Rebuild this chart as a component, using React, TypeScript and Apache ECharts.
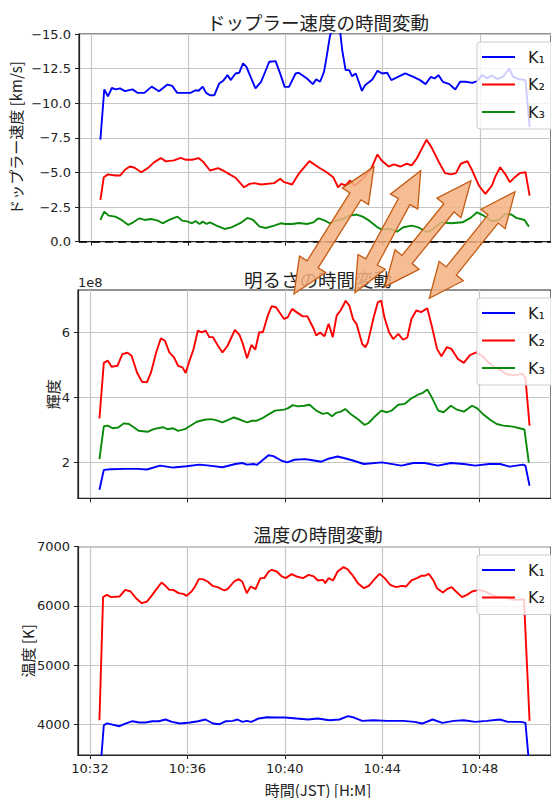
import React, { useEffect, useRef } from "react";
import * as echarts from "echarts";

type Pt = [number, number];

// x = minutes after 10:00 (JST)
// ---------- ドップラー速度 [km/s] ----------
const dopplerK1: Pt[] = [
  [32.39, -7.37], [32.55, -11.0], [32.7, -10.5], [32.86, -11.1], [33.02, -11.0], [33.2, -11.07], [33.4, -10.87],
  [33.71, -11.0], [33.91, -10.75], [34.2, -10.75], [34.5, -11.2], [34.8, -10.87], [35.15, -11.35], [35.35, -11.25],
  [35.55, -10.75], [36.1, -10.75], [36.3, -10.94], [36.43, -10.9], [36.6, -11.2], [36.74, -10.75], [36.9, -10.58],
  [37.08, -10.58], [37.28, -11.43], [37.44, -11.62], [37.62, -12.03], [37.75, -11.67], [37.95, -12.15], [38.1, -12.2],
  [38.26, -12.88], [38.4, -12.63], [38.77, -11.07], [39.0, -11.55], [39.2, -12.4], [39.34, -13.0], [39.6, -13.04],
  [39.81, -12.03], [39.97, -11.18], [40.15, -11.18], [40.42, -12.15], [40.55, -12.2], [40.89, -11.79], [41.13, -11.38],
  [41.27, -11.72], [41.43, -11.55], [41.59, -12.27], [41.7, -13.36], [41.83, -14.8], [41.95, -15.6], [42.1, -15.8],
  [42.24, -15.4], [42.34, -13.84], [42.48, -12.39], [42.63, -12.39], [42.74, -11.96], [42.9, -12.15], [43.02, -11.55],
  [43.15, -10.89], [43.28, -11.3], [43.58, -11.72], [43.79, -12.34], [43.99, -12.15], [44.19, -12.2], [44.36, -11.67],
  [44.93, -12.15], [45.27, -11.9], [45.54, -11.67], [45.77, -11.38], [45.98, -11.9], [46.14, -11.79], [46.3, -12.03],
  [46.48, -11.55], [46.75, -11.38], [46.99, -10.99], [47.19, -11.55], [47.42, -11.55], [47.69, -11.47], [47.9, -11.6],
  [48.09, -12.03], [48.3, -11.8], [48.5, -12.0], [48.7, -11.75], [48.95, -11.9], [49.21, -12.51], [49.37, -11.9],
  [49.6, -11.75], [49.88, -11.67], [50.05, -8.28],
];
const dopplerK2: Pt[] = [
  [32.39, -3.02], [32.53, -4.66], [32.7, -4.86], [33.0, -4.78], [33.2, -4.78], [33.4, -5.19], [33.6, -5.43],
  [33.8, -5.34], [34.07, -5.02], [34.34, -5.31], [34.61, -5.75], [34.88, -6.04], [35.08, -5.8], [35.42, -5.87],
  [35.69, -6.06], [35.89, -5.92], [36.16, -5.92], [36.43, -6.04], [36.63, -5.75], [36.9, -5.14], [37.24, -5.31],
  [37.44, -5.14], [37.71, -4.86], [37.95, -4.62], [38.3, -3.93], [38.53, -4.18], [38.73, -4.23], [39.0, -4.13],
  [39.54, -4.23], [39.79, -4.54], [39.95, -4.3], [40.28, -4.13], [40.55, -4.9], [40.99, -5.82], [41.36, -5.38],
  [41.7, -5.02], [41.97, -4.66], [42.17, -3.93], [42.3, -4.18], [42.48, -4.06], [42.67, -4.42], [42.84, -4.06],
  [43.04, -4.3], [43.25, -4.66], [43.56, -5.38], [43.79, -6.3], [43.96, -5.87], [44.25, -5.43], [44.46, -5.58],
  [44.73, -5.43], [45.0, -5.63], [45.2, -5.51], [45.4, -5.99], [45.81, -7.37], [46.01, -6.83], [46.28, -5.87],
  [46.57, -4.95], [46.82, -4.86], [47.02, -4.95], [47.22, -5.63], [47.49, -5.82], [47.69, -5.14], [47.96, -4.06],
  [48.23, -3.45], [48.5, -4.06], [48.63, -4.66], [48.84, -5.38], [49.04, -4.9], [49.24, -4.3], [49.44, -4.66],
  [49.64, -4.95], [49.88, -5.02], [50.05, -3.33],
];
const dopplerK3: Pt[] = [
  [32.39, -1.57], [32.55, -2.17], [32.73, -1.88], [33.0, -1.81], [33.26, -1.57], [33.54, -1.21], [33.74, -1.4],
  [34.0, -1.69], [34.21, -1.57], [34.48, -1.64], [34.75, -1.52], [34.95, -1.33], [35.22, -1.57], [35.56, -1.81],
  [35.76, -1.52], [35.96, -1.47], [36.16, -1.33], [36.3, -1.5], [36.47, -1.28], [36.6, -1.45], [36.76, -1.28],
  [36.9, -1.4], [37.17, -1.16], [37.5, -0.92], [37.78, -1.04], [37.93, -1.16], [38.2, -1.4], [38.44, -1.72],
  [38.67, -1.57], [38.94, -1.09], [39.2, -0.99], [39.54, -1.16], [39.81, -1.33], [40.0, -1.28], [40.3, -1.28],
  [40.55, -1.35], [40.89, -1.28], [41.16, -1.4], [41.36, -1.69], [41.63, -1.52], [41.83, -1.33], [42.1, -1.52],
  [42.37, -1.64], [42.64, -1.88], [42.93, -1.96], [43.18, -1.81], [43.45, -1.52], [43.79, -1.04], [43.99, -0.88],
  [44.32, -0.92], [44.59, -0.72], [44.86, -1.04], [45.2, -1.16], [45.47, -1.04], [45.81, -0.7], [46.0, -0.82],
  [46.41, -1.4], [46.82, -1.33], [47.29, -1.4], [47.62, -1.72], [47.89, -2.12], [48.16, -1.88], [48.5, -1.47],
  [48.77, -1.57], [49.04, -2.0], [49.3, -1.96], [49.5, -1.72], [49.84, -1.57], [50.02, -1.09],
];

// ---------- 輝度 (×1e8) ----------
const brightK1: Pt[] = [
  [32.39, 1.17], [32.57, 1.78], [32.85, 1.8], [33.4, 1.81], [33.94, 1.81], [34.34, 1.79], [34.88, 1.91], [35.42, 1.85],
  [35.96, 1.89], [36.5, 1.94], [36.9, 1.91], [37.44, 1.86], [37.97, 1.96], [38.25, 1.99], [38.45, 1.94], [38.72, 1.96],
  [38.85, 1.93], [39.06, 2.06], [39.33, 2.23], [39.53, 2.2], [39.87, 2.06], [40.1, 2.01], [40.4, 2.09], [40.8, 2.11],
  [41.02, 2.09], [41.5, 2.03], [41.83, 2.13], [42.17, 2.19], [42.5, 2.13], [42.83, 2.06], [43.25, 1.96], [43.99, 2.01],
  [44.79, 1.91], [45.27, 1.99], [45.74, 1.99], [46.29, 1.91], [46.82, 1.99], [47.35, 1.96], [47.82, 1.91], [48.38, 1.96],
  [48.84, 1.96], [49.24, 1.88], [49.78, 1.94], [49.88, 1.91], [50.05, 1.29],
];
const brightK2: Pt[] = [
  [32.39, 3.36], [32.57, 5.07], [32.73, 5.14], [32.89, 4.95], [33.13, 4.98], [33.33, 5.34], [33.54, 5.38], [33.71, 5.29],
  [33.94, 4.76], [34.14, 4.49], [34.34, 4.47], [34.5, 4.76], [34.72, 5.39], [34.91, 5.82], [35.08, 5.75], [35.26, 5.39],
  [35.45, 5.24], [35.62, 4.98], [35.8, 4.93], [35.93, 4.76], [36.09, 5.14], [36.25, 5.48], [36.43, 6.06], [36.59, 6.01],
  [36.75, 6.06], [36.9, 5.86], [37.05, 5.86], [37.24, 5.62], [37.44, 5.39], [37.64, 5.58], [37.95, 6.08], [38.14, 5.93],
  [38.28, 5.65], [38.45, 5.21], [38.63, 5.62], [38.79, 5.48], [38.95, 6.01], [39.1, 6.01], [39.3, 6.52], [39.46, 6.81],
  [39.64, 6.78], [39.97, 6.42], [40.12, 6.47], [40.3, 6.73], [40.48, 6.63], [40.74, 6.5], [40.93, 6.5], [41.19, 6.11],
  [41.29, 5.91], [41.45, 6.0], [41.63, 5.89], [41.8, 6.27], [41.97, 5.86], [42.13, 6.52], [42.29, 6.68], [42.5, 6.98],
  [42.65, 6.83], [42.8, 6.42], [42.95, 6.26], [43.18, 5.65], [43.31, 5.55], [43.41, 5.7], [43.65, 6.47], [43.82, 6.93],
  [43.96, 6.98], [44.09, 6.47], [44.28, 6.01], [44.45, 5.8], [44.66, 5.96], [44.86, 5.78], [45.03, 5.85], [45.2, 6.42],
  [45.4, 6.68], [45.6, 6.63], [45.85, 6.75], [46.03, 6.22], [46.25, 5.5], [46.43, 5.27], [46.65, 5.55], [46.84, 5.5],
  [47.11, 5.19], [47.35, 5.07], [47.6, 5.31], [47.86, 5.39], [48.09, 5.29], [48.38, 5.07], [48.63, 4.93], [48.9, 4.83],
  [49.1, 4.72], [49.3, 4.7], [49.53, 4.7], [49.78, 4.73], [49.88, 4.6], [50.05, 3.14],
];
const brightK3: Pt[] = [
  [32.39, 2.11], [32.57, 3.12], [32.73, 3.14], [32.93, 3.06], [33.16, 3.08], [33.4, 3.21], [33.6, 3.19], [33.8, 3.09],
  [34.0, 2.98], [34.37, 2.95], [34.61, 3.03], [34.99, 3.09], [35.18, 3.03], [35.4, 3.06], [35.62, 2.98], [35.89, 3.03],
  [36.09, 3.12], [36.39, 3.26], [36.7, 3.32], [36.97, 3.34], [37.17, 3.31], [37.44, 3.24], [37.68, 3.32], [37.91, 3.39],
  [38.18, 3.32], [38.45, 3.24], [38.67, 3.29], [38.85, 3.29], [39.06, 3.36], [39.3, 3.47], [39.6, 3.6], [39.97, 3.63],
  [40.12, 3.67], [40.33, 3.77], [40.53, 3.73], [40.8, 3.75], [41.02, 3.78], [41.29, 3.6], [41.56, 3.5], [41.76, 3.53],
  [41.94, 3.43], [42.1, 3.53], [42.3, 3.57], [42.48, 3.65], [42.7, 3.5], [42.98, 3.35], [43.28, 3.16], [43.44, 3.22],
  [43.71, 3.43], [43.96, 3.6], [44.18, 3.55], [44.38, 3.6], [44.66, 3.78], [44.93, 3.81], [45.2, 3.98], [45.47, 4.09],
  [45.67, 4.15], [45.85, 4.25], [46.0, 4.06], [46.3, 3.6], [46.52, 3.55], [46.82, 3.75], [47.07, 3.63], [47.35, 3.57],
  [47.69, 3.75], [47.9, 3.67], [48.13, 3.5], [48.43, 3.32], [48.7, 3.19], [48.97, 3.14], [49.37, 3.11], [49.64, 3.06],
  [49.84, 3.02], [50.02, 2.0],
];

// ---------- 温度 [K] ----------
const tempK1: Pt[] = [
  [32.39, 3030], [32.57, 3983], [32.7, 4014], [32.88, 3997], [33.21, 3966], [33.48, 4014], [33.75, 4051], [34.02, 4029],
  [34.29, 4029], [34.56, 4051], [34.83, 4051], [35.1, 4080], [35.37, 4040], [35.7, 4012], [36.11, 4029], [36.44, 4051],
  [36.74, 4080], [37.05, 4012], [37.32, 4000], [37.59, 4051], [37.86, 4057], [38.06, 4080], [38.26, 4040], [38.44, 4057],
  [38.62, 4040], [38.93, 4097], [39.27, 4119], [39.6, 4113], [40.01, 4113], [40.48, 4097], [40.95, 4080], [41.36, 4097],
  [41.83, 4068], [42.24, 4080], [42.6, 4136], [42.84, 4113], [43.18, 4057], [43.65, 4068], [44.19, 4057], [44.86, 4057],
  [45.33, 4040], [45.64, 4012], [46.07, 4080], [46.47, 4023], [46.95, 4057], [47.35, 4068], [47.82, 4040], [48.29, 4057],
  [48.83, 4080], [49.16, 4040], [49.7, 4040], [49.88, 4023], [50.05, 3240],
];
const tempK2: Pt[] = [
  [32.39, 4068], [32.54, 6147], [32.7, 6186], [32.87, 6147], [33.21, 6158], [33.45, 6271], [33.67, 6243], [33.89, 6130],
  [34.13, 6045], [34.34, 6073], [34.56, 6186], [34.71, 6271], [34.94, 6395], [35.1, 6339], [35.26, 6271], [35.42, 6271],
  [35.64, 6215], [35.84, 6203], [35.97, 6169], [36.17, 6243], [36.3, 6316], [36.47, 6452], [36.63, 6452], [36.83, 6412],
  [37.03, 6339], [37.24, 6316], [37.52, 6260], [37.65, 6282], [37.92, 6412], [38.1, 6452], [38.25, 6412], [38.44, 6215],
  [38.6, 6327], [38.8, 6282], [39.0, 6469], [39.16, 6469], [39.34, 6581], [39.47, 6610], [39.67, 6581], [39.88, 6497],
  [40.04, 6469], [40.28, 6537], [40.48, 6497], [40.75, 6469], [40.98, 6525], [41.19, 6497], [41.36, 6429], [41.57, 6440],
  [41.66, 6384], [41.8, 6469], [41.98, 6429], [42.17, 6581], [42.41, 6655], [42.57, 6621], [42.77, 6525], [43.0, 6384],
  [43.25, 6299], [43.45, 6339], [43.72, 6469], [43.89, 6542], [44.1, 6469], [44.33, 6356], [44.57, 6316], [44.8, 6339],
  [44.97, 6327], [45.2, 6429], [45.43, 6469], [45.6, 6508], [45.74, 6508], [45.91, 6542], [46.09, 6440], [46.25, 6299],
  [46.49, 6226], [46.66, 6282], [46.85, 6316], [47.03, 6243], [47.28, 6147], [47.48, 6186], [47.69, 6243], [47.96, 6271],
  [48.23, 6243], [48.5, 6186], [48.77, 6147], [49.05, 6147], [49.24, 6113], [49.5, 6101], [49.82, 6113], [50.05, 4056],
];

const timeTicks = [32, 36, 40, 44, 48];
const brightTicks = [2, 4, 6];
const tempTicks = [4000, 5000, 6000, 7000];
const seriesNames = ["K₁", "K₂", "K₃"];
const titles = ["ドップラー速度の時間変動", "明るさの時間変動", "温度の時間変動"];
const yNames = ["ドップラー速度 [km/s]", "輝度", "温度 [K]"];
const xName = "時間(JST) [H:M]";
const brightScaleLabel = "1e8";

// annotation arrows (pixel endpoints: lower-left tip, upper-right tip)
const arrowEnds: [Pt, Pt][] = [
  [[294, 294], [374, 166.7]],
  [[355, 292.7], [420.7, 170.7]],
  [[385, 286.7], [471, 180.7]],
  [[429.3, 298.3], [515, 191.7]],
];

const FONT = "'Noto Sans CJK JP', 'Noto Sans CJK SC', sans-serif";
const NUM_FONT = "'DejaVu Sans', sans-serif";
const COLORS = ["#0000ff", "#ff0000", "#0a8a0a"];
const GRID_LEFT = 78;
const GRID_W = 480.5;
const X_MIN = 31.51;
const X_MAX = 50.93;

function arrowPoints(p1: Pt, p2: Pt, head = 35, hw = 15.5, sw = 6.5): number[][] {
  const dx = p2[0] - p1[0];
  const dy = p2[1] - p1[1];
  const L = Math.hypot(dx, dy);
  const ux = dx / L, uy = dy / L;
  const nx = -uy, ny = ux;
  const at = (p: Pt, a: number, b: number) => [p[0] + ux * a + nx * b, p[1] + uy * a + ny * b];
  return [
    [p2[0], p2[1]], at(p2, -head, hw), at(p2, -head, sw), at(p1, head, sw), at(p1, head, hw),
    [p1[0], p1[1]], at(p1, head, -hw), at(p1, head, -sw), at(p2, -head, -sw), at(p2, -head, -hw),
  ];
}

export default function App() {
  const ref = useRef<HTMLDivElement>(null);
  useEffect(() => {
    if (!ref.current) return;
    const chart = echarts.init(ref.current, null, { renderer: "svg" });
    const grids = [
      { top: 34, height: 207.7 },
      { top: 290, height: 208.3 },
      { top: 546.7, height: 208.3 },
    ];
    const axisColor = "#222";
    const gridLineColor = "#c6c6c6";
    const xAxes = grids.map((_, i) => ({
      type: "value",
      gridIndex: i,
      min: X_MIN,
      max: X_MAX,
      axisLine: { show: true, onZero: false, lineStyle: { color: axisColor, width: 1.2 } },
      axisTick: { show: true, length: 4, customValues: timeTicks, lineStyle: { color: axisColor, width: 1 } },
      axisLabel: {
        show: i === 2,
        customValues: timeTicks,
        margin: 7,
        color: axisColor,
        fontSize: 13,
        fontFamily: NUM_FONT,
        formatter: (v: number) => `10:${String(Math.round(v)).padStart(2, "0")}`,
      },
      splitLine: { show: true, lineStyle: { color: gridLineColor, width: 1.2 } },
    }));
    const yCommon = (i: number) => ({
      type: "value",
      gridIndex: i,
      name: yNames[i],
      nameLocation: "middle",
      nameMoveOverlap: false,
      nameTextStyle: { fontSize: 15, fontFamily: FONT, color: axisColor },
      axisLine: { show: true, lineStyle: { color: axisColor, width: 1.2 } },
      splitLine: { show: true, lineStyle: { color: gridLineColor, width: 1.2 } },
    });
    const labelStyle = { color: axisColor, fontSize: 13, fontFamily: NUM_FONT, margin: 8 };
    const yAxes = [
      {
        ...yCommon(0),
        inverse: true,
        min: -15,
        max: 0,
        interval: 2.5,
        nameGap: 56,
        axisTick: { show: true, length: 4, lineStyle: { color: axisColor } },
        axisLabel: { ...labelStyle, formatter: (v: number) => v.toFixed(1).replace("-", "−") },
      },
      {
        ...yCommon(1),
        min: 0.905,
        max: 7.31,
        nameGap: 18,
        axisTick: { show: true, length: 4, customValues: brightTicks, lineStyle: { color: axisColor } },
        axisLabel: { ...labelStyle, customValues: brightTicks, formatter: (v: number) => String(v) },
      },
      {
        ...yCommon(2),
        min: 3480,
        max: 7000,
        nameGap: 43,
        axisTick: { show: true, length: 4, customValues: tempTicks, lineStyle: { color: axisColor } },
        axisLabel: { ...labelStyle, customValues: tempTicks, formatter: (v: number) => String(v) },
      },
    ];
    const mk = (name: string, data: Pt[], gi: number, ci: number, extra: any = {}) => ({
      type: "line",
      name,
      data,
      xAxisIndex: gi,
      yAxisIndex: gi,
      symbol: "none",
      showSymbol: false,
      clip: true,
      lineStyle: { color: COLORS[ci], width: 1.9 },
      itemStyle: { color: COLORS[ci] },
      z: 2,
      ...extra,
    });
    const zeroLine = {
      markLine: {
        silent: true,
        symbol: ["none", "none"],
        label: { show: false },
        lineStyle: { color: "#000", type: [8, 5], width: 1.6 },
        data: [{ yAxis: 0 }],
      },
    };
    const series = [
      mk(seriesNames[0], dopplerK1, 0, 0, zeroLine),
      mk(seriesNames[1], dopplerK2, 0, 1),
      mk(seriesNames[2], dopplerK3, 0, 2),
      mk(seriesNames[0], brightK1, 1, 0),
      mk(seriesNames[1], brightK2, 1, 1),
      mk(seriesNames[2], brightK3, 1, 2),
      mk(seriesNames[0], tempK1, 2, 0),
      mk(seriesNames[1], tempK2, 2, 1),
    ];
    const legendTops = [42, 298, 555];
    const legends = legendTops.map((top, i) => ({
      orient: "vertical",
      left: 477,
      top,
      data: i === 2 ? seriesNames.slice(0, 2) : seriesNames,
      icon: "rect",
      itemWidth: 33,
      itemHeight: 2,
      itemGap: 7.5,
      padding: [5, 30, 7, 5],
      backgroundColor: "rgba(255,255,255,0.8)",
      borderColor: "#cccccc",
      borderWidth: 1,
      borderRadius: 3,
      selectedMode: false,
      itemStyle: { borderWidth: 0 },
      textStyle: { fontFamily: NUM_FONT, fontSize: 16, color: "#222", lineHeight: 20, padding: [0, 0, 0, 8] },
      z: 5,
    }));
    const titleY = [22, 279, 534];
    const graphic: any[] = [
      ...titles.map((t, i) => ({
        type: "text",
        x: 318,
        y: titleY[i],
        z: 50,
        style: { text: t, fontSize: 18.5, fontFamily: FONT, fill: "#222", align: "center", verticalAlign: "middle" },
      })),
      {
        type: "text",
        x: 78,
        y: 282,
        z: 50,
        style: { text: brightScaleLabel, fontSize: 13, fontFamily: NUM_FONT, fill: "#222", align: "left", verticalAlign: "middle" },
      },
      {
        type: "text",
        x: 318,
        y: 789,
        z: 50,
        style: { text: xName, fontSize: 15, fontFamily: FONT, fill: "#222", align: "center", verticalAlign: "middle" },
      },
      ...arrowEnds.map(([p1, p2]) => ({
        type: "polygon",
        z: 100,
        shape: { points: arrowPoints(p1, p2) },
        style: { fill: "rgba(244,177,131,0.85)", stroke: "#c55a11", lineWidth: 1.3 },
      })),
    ];
    chart.setOption({
      animation: false,
      backgroundColor: "#ffffff",
      grid: grids.map((g) => ({
        left: GRID_LEFT,
        width: GRID_W,
        top: g.top,
        height: g.height,
        show: true,
        borderColor: axisColor,
        borderWidth: 1.2,
        backgroundColor: "transparent",
      })),
      xAxis: xAxes,
      yAxis: yAxes,
      legend: legends,
      series,
      graphic,
    } as any);
    return () => chart.dispose();
  }, []);
  return <div ref={ref} style={{ position: "absolute", left: 0, top: 0, width: 551, height: 798 }} />;
}
